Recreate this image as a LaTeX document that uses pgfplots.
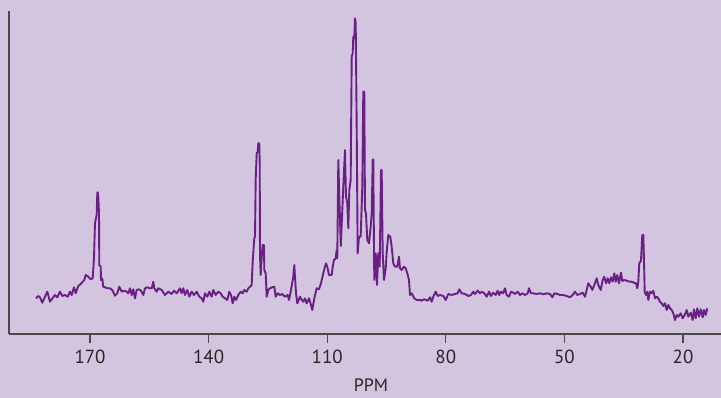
\documentclass[border=0pt]{standalone}
\usepackage{fontspec}
\setmainfont{PT Sans}
\usepackage{pgfplots}
\pgfplotsset{compat=1.18}
\definecolor{bg}{HTML}{D3C5DF}
\definecolor{spec}{HTML}{6A1F85}
\definecolor{axc}{HTML}{4A4A4A}
\begin{document}
\begin{tikzpicture}
\fill[bg] (0,0) rectangle (721bp,398bp);
\path[use as bounding box] (0,0) rectangle (721bp,398bp);
\begin{axis}[at={(9bp,64bp)}, anchor=south west, scale only axis,
  width=712bp, height=323bp, x dir=reverse,
  xmin=10.39, xmax=190.49, ymin=0, ymax=323,
  axis x line=bottom, axis y line=left,
  axis line style={axc, line width=1.3bp, -},
  xtick={170,140,110,80,50,20}, ytick=\empty,
  tick align=outside, major tick length=9bp,
  tick style={axc, line width=1.1bp},
  ticklabel style={font=\fontsize{19}{22}\selectfont, text=black!85},
  xticklabel style={yshift=-4bp},
  /pgf/number format/assume math mode=true,
  xlabel={PPM},
  xlabel style={at={(axis description cs:0.5084,-0.178)}, anchor=base, inner sep=0pt, font=\fontsize{18}{21}\selectfont, text=black!85},
  clip=false]
\addplot[spec, line width=1.9bp, line join=round] table {
183.66 35.7
183.08 38
182.65 36.7
182.07 31.3
181.38 37.3
180.80 42.3
180.12 32.3
179.44 36
178.85 39
178.27 36.7
177.59 42.3
177.01 38
176.32 39
175.64 37.3
175.06 42.3
174.63 39
174.05 46.7
173.62 40.7
172.96 48
172.35 50
171.85 52.3
171.44 54
171.09 59
170.43 57.3
169.82 54.7
169.32 55.7
168.99 75.7
168.74 110.7
168.31 119
168.15 141.3
168.05 141.7
167.90 137.3
167.72 120.7
167.65 69
167.29 67.3
167.22 54
166.89 55.3
166.64 47.3
166.21 46.7
165.62 45.7
164.94 45.7
164.36 44
163.68 38.3
163.10 40.7
162.59 47.3
161.98 42.3
161.40 43.3
160.72 42.3
160.31 40.7
159.88 45.7
159.45 39
159.05 44.7
158.62 35.7
158.19 44
157.61 44.7
157.10 43.3
156.52 39
156.09 45.7
155.51 46.7
154.82 45.7
154.39 45.7
153.99 52.3
153.74 45.7
153.13 42.3
152.72 45.7
151.86 44
151.03 39
150.19 42.3
149.34 40
148.75 43.3
148.07 40.7
147.24 45.7
146.81 40.7
146.40 45.7
145.97 39
145.39 44
144.88 37.3
144.28 42.3
143.69 39
143.01 42.3
142.35 37.3
141.75 35.7
141.34 32.3
140.91 40.7
140.33 37.3
139.82 42.3
139.22 37.3
138.81 44
138.21 39
137.55 42.3
136.94 40.7
136.43 37.3
135.85 35.7
135.27 34
134.77 42.3
134.34 39
133.91 30.7
133.50 37.3
133.07 34
132.49 39
131.88 42.3
131.38 40.7
130.97 44
130.36 42.3
129.96 45.7
129.53 47.3
129.10 49
128.85 72.3
128.44 95.7
128.26 97.3
128.09 154
127.83 180.7
127.58 182.3
127.43 190.7
127.18 190.7
127.07 170.7
127.00 79
126.82 59
126.57 77.3
126.32 89
125.99 89
125.91 64
125.56 60.7
125.30 37.3
124.90 44
124.47 45.7
123.89 46.7
123.38 47.3
123.03 37.3
122.52 40.7
121.94 39
121.36 40
120.68 37.3
119.99 39
119.66 34
119.16 44
118.58 57.3
118.32 69
118.15 57.3
117.89 40.7
117.56 30.7
116.88 37.3
116.45 34
116.05 32.3
115.62 35.7
115.19 30.7
114.60 35.7
114.10 29
113.77 24
113.26 35.7
112.66 45.7
112.08 44.7
111.57 50.7
110.99 60.7
110.56 67.3
110.30 70.7
109.98 67.3
109.55 59
108.86 59
108.61 67.3
108.28 74
107.85 75.7
107.60 84
107.45 75.7
107.19 174
106.94 137.3
106.56 88
106.18 124
105.93 147.3
105.50 184
105.25 137.3
104.92 130.7
104.66 105.7
104.41 144
104.06 154
103.80 277.3
103.55 280.7
103.40 297.3
103.15 295.7
102.97 315.7
102.79 310.7
102.54 207.3
102.29 80.7
101.96 97.3
101.53 97.3
101.45 107.3
101.12 147.3
100.87 242.3
100.62 242.3
100.44 124
100.19 120.7
99.86 94
99.43 90.7
99.00 107.3
98.74 120.7
98.49 174
98.34 174.7
98.24 120.7
98.09 54
97.73 80.7
97.40 49
97.08 80.7
96.72 67.3
96.39 164
96.22 164
95.96 80.7
95.63 54
95.20 65.7
94.95 82.3
94.55 99
94.04 97.3
93.69 87.3
93.28 70.7
92.85 67.3
92.27 67.3
91.84 77.3
91.59 65.7
91.16 64
90.57 67.3
90.14 65.7
89.74 60.7
89.31 54
89.06 39
88.63 40.7
87.97 35.7
87.36 34
86.53 34
86.27 33.3
85.44 34.7
84.58 33.3
84.00 36.7
83.57 32.3
83.16 37.3
82.55 42.3
82.05 38
81.47 39
80.63 38
80.03 34
79.37 40
78.51 39
77.67 40
76.99 40.7
76.59 44.7
75.98 40.7
75.14 40
74.31 38
73.63 39
73.05 42.3
72.62 40
71.93 43.3
71.35 40.7
70.92 42.3
70.26 40.7
69.66 37.3
69.07 42.3
68.57 38
67.99 41.3
67.38 39
66.87 43.3
66.47 39
66.04 42.3
65.46 40.7
65.03 45.7
64.60 39
64.01 37.3
63.51 42.3
62.93 41.3
62.50 40
61.81 42.3
61.23 39
60.65 40.7
59.97 39
59.28 40.7
58.96 45.7
58.45 40.7
57.87 40.7
57.01 40
56.17 40.7
55.34 39.7
54.48 40.7
53.64 40
53.06 36.7
52.56 40.7
51.70 40
51.11 39
50.28 39
49.42 38
48.58 36.7
47.90 39
47.32 42.3
46.74 39
46.06 40
45.37 41.3
44.79 37.3
44.36 44
43.96 50.7
43.35 47.3
42.94 44
42.44 49
41.83 55.7
41.43 49
40.82 44
40.31 54
39.91 57.3
39.48 50.7
39.05 55.7
38.64 50.7
38.21 56.7
37.78 52.3
37.38 60.7
37.02 52.3
36.62 59
36.19 50.7
35.68 61.3
35.36 53
34.85 54
34.24 53.3
33.58 52.3
32.98 52.3
32.40 51.3
31.89 50.7
31.56 45.7
31.31 52.3
31.06 70.7
30.63 73.3
30.30 99
30.04 99
29.87 74
29.69 42.3
29.36 39
29.03 42.3
28.78 34
28.35 42.3
27.92 40.7
27.51 43.3
27.08 35.7
26.65 37.3
26.25 35.7
25.82 32.3
25.39 30.7
24.98 28
24.55 30.7
24.12 24
23.72 29
23.29 25.7
22.86 24
22.45 20.7
22.02 14
21.59 19
21.19 17.3
20.58 20.7
20.08 15.7
19.50 19.7
19.07 24
18.66 17.3
18.05 21.3
17.55 14
17.22 24.7
16.79 15.7
16.38 25.7
15.95 17.3
15.52 24.7
15.02 16.7
14.69 24
14.26 19
13.85 25.7
};
\end{axis}
\end{tikzpicture}
\end{document}
